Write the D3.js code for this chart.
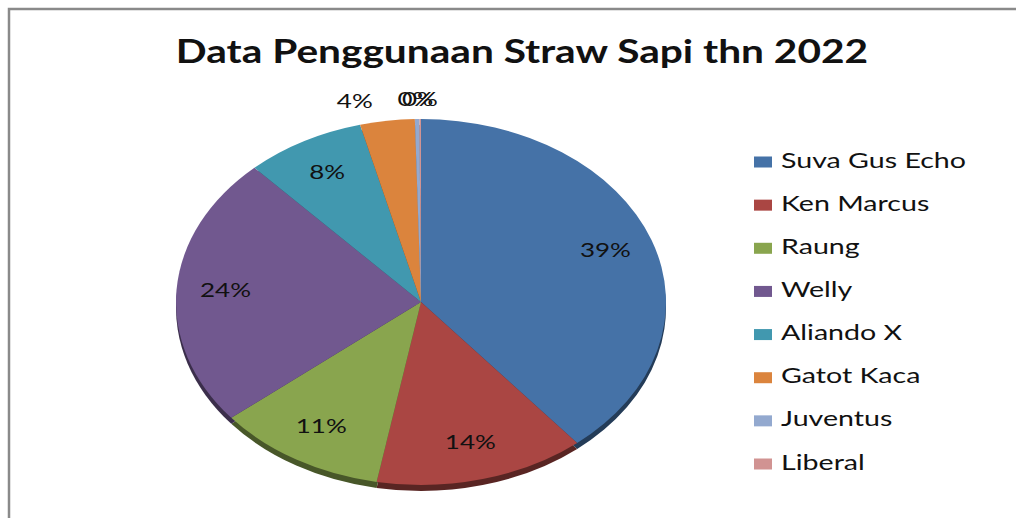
<html>
<head>
  <script src="https://d3js.org/d3.v7.min.js"></script>
  <style>
    body { margin: 0; background: #fff; }
    text { font-family: Lato, "Open Sans", sans-serif; fill: #111; }
  </style>
</head>
<body>
  <svg id="pieChart" width="1016" height="518"></svg>
  <script>
    // data (percent shares)
    const categories = ["Suva Gus Echo", "Ken Marcus", "Raung", "Welly", "Aliando X", "Gatot Kaca", "Juventus", "Liberal"];
    const values = [39.0, 13.9, 11.2, 24.0, 7.9, 3.6, 0.3, 0.1];
    const colors = ["#4572A7", "#AA4643", "#89A54E", "#71588F", "#4198AF", "#DB843D", "#93A9CF", "#D19392"];
    const title = "Data Penggunaan Straw Sapi thn 2022";

    const svg = d3.select("#pieChart");
    const textScale = 1.3;   // the original is stretched sideways

    // frame
    svg.append("path")
       .attr("d", "M9,520 L9,9 L1020,9")
       .attr("fill", "none")
       .attr("stroke", "#8a8a8a")
       .attr("stroke-width", 2.5);

    svg.append("text")
       .attr("transform", `translate(522,63) scale(1.27,1)`)
       .attr("text-anchor", "middle")
       .style("font-size", "32px")
       .style("font-weight", "bold")
       .text(title);

    // pie (3D look: ellipse + dark rim)
    const cx = 421, cy = 302, ry = 183, rx = 245;
    const sx = rx / ry;
    const total = d3.sum(values);

    const pie = d3.pie().sort(null).value(d => d);
    const arcs = pie(values);
    const arc = d3.arc().innerRadius(0).outerRadius(ry);

    const rim = svg.append("g").attr("transform", `translate(${cx},${cy + 6}) scale(${sx},1)`);
    rim.selectAll("path").data(arcs)
       .join("path")
       .attr("d", arc)
       .attr("fill", (d, i) => d3.color(colors[i]).darker(1.8));

    const face = svg.append("g").attr("transform", `translate(${cx},${cy}) scale(${sx},1)`);
    face.selectAll("path").data(arcs)
       .join("path")
       .attr("d", arc)
       .attr("fill", (d, i) => colors[i]);

    // data labels (small slices go outside, spread a bit sideways)
    const inLabel = d3.arc().innerRadius(ry * 0.8).outerRadius(ry * 0.8);
    const outLabel = d3.arc().innerRadius(ry * 1.1).outerRadius(ry * 1.1);
    arcs.forEach((d, i) => {
        const share = d.value / total * 100;
        const outside = share < 5;
        const c = (outside ? outLabel : inLabel).centroid(d);
        const x = cx + c[0] * sx * (outside ? 1.3 : 1), y = cy + c[1];
        const anchor = outside && c[0] < -10 ? "end" : "middle";
        svg.append("text")
           .attr("transform", `translate(${x},${y}) scale(${textScale},1)`)
           .attr("text-anchor", anchor)
           .attr("dominant-baseline", "middle")
           .style("font-size", "20px")
           .text(Math.round(share) + "%");
    });

    // legend
    const legendY = d3.scalePoint().domain(categories).range([162, 464]);
    const legend = svg.append("g");
    categories.forEach((name, i) => {
        legend.append("rect")
              .attr("x", 754).attr("y", legendY(name) - 5.5)
              .attr("width", 18).attr("height", 11)
              .attr("fill", colors[i]);
        legend.append("text")
              .attr("transform", `translate(781,${legendY(name)}) scale(${textScale},1)`)
              .attr("dominant-baseline", "middle")
              .style("font-size", "22px")
              .text(name);
    });
  </script>
</body>
</html>
